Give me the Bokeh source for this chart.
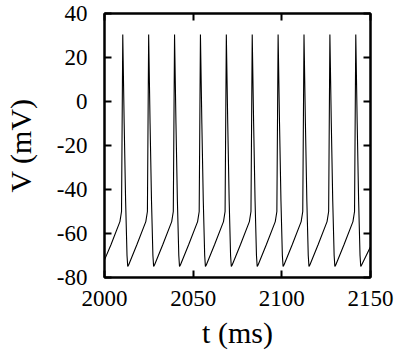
from bokeh.plotting import figure
from bokeh.models import Range1d, LinearAxis, FixedTicker, CustomJSTickFormatter
from bokeh.embed import file_html
from bokeh.resources import INLINE

# time (ms) and membrane voltage (mV)
t_ms = [
    2000.0, 2003.7,
    2008.7, 2009.6, 2010.3, 2011.1, 2011.9, 2012.7, 2013.1, 2013.6, 2018.3,
    2023.3, 2024.2, 2024.9, 2025.7, 2026.5, 2027.3, 2027.7, 2028.2, 2032.9,
    2037.9, 2038.8, 2039.5, 2040.3, 2041.1, 2041.9, 2042.3, 2042.8, 2047.5,
    2052.5, 2053.4, 2054.1, 2054.9, 2055.7, 2056.5, 2056.9, 2057.4, 2062.1,
    2067.1, 2068.0, 2068.7, 2069.5, 2070.3, 2071.1, 2071.5, 2072.0, 2076.7,
    2081.7, 2082.6, 2083.3, 2084.1, 2084.9, 2085.7, 2086.1, 2086.6, 2091.3,
    2096.3, 2097.2, 2097.9, 2098.7, 2099.5, 2100.3, 2100.7, 2101.2, 2105.9,
    2110.9, 2111.8, 2112.5, 2113.3, 2114.1, 2114.9, 2115.3, 2115.8, 2120.5,
    2125.5, 2126.4, 2127.1, 2127.9, 2128.7, 2129.5, 2129.9, 2130.4, 2135.1,
    2140.1, 2141.0, 2141.7, 2142.5, 2143.3, 2144.1, 2144.5, 2145.0, 2150.0,
]
v_mv = [
    -72.0, -65.0,
    -54.6, -50.0, 30.5, -10.0, -45.0, -70.0, -75.0, -74.3, -65.0,
    -54.6, -50.0, 30.5, -10.0, -45.0, -70.0, -75.0, -74.3, -65.0,
    -54.6, -50.0, 30.5, -10.0, -45.0, -70.0, -75.0, -74.3, -65.0,
    -54.6, -50.0, 30.5, -10.0, -45.0, -70.0, -75.0, -74.3, -65.0,
    -54.6, -50.0, 30.5, -10.0, -45.0, -70.0, -75.0, -74.3, -65.0,
    -54.6, -50.0, 30.5, -10.0, -45.0, -70.0, -75.0, -74.3, -65.0,
    -54.6, -50.0, 30.5, -10.0, -45.0, -70.0, -75.0, -74.3, -65.0,
    -54.6, -50.0, 30.5, -10.0, -45.0, -70.0, -75.0, -74.3, -65.0,
    -54.6, -50.0, 30.5, -10.0, -45.0, -70.0, -75.0, -74.3, -65.0,
    -54.6, -50.0, 30.5, -10.0, -45.0, -70.0, -75.0, -74.3, -66.0,
]
x_ticks = [2000, 2050, 2100, 2150]
x_labels = ["2000", "2050", "2100", "2150"]
y_ticks = [-80, -60, -40, -20, 0, 20, 40]
y_labels = ["-80", "-60", "-40", "-20", "0", "20", "40"]

FONT = "Liberation Serif"

p = figure(width=399, height=358, output_backend="svg", toolbar_location=None,
           x_range=Range1d(2000, 2150), y_range=Range1d(-80, 40),
           min_border_left=100, min_border_right=29, min_border_top=13,
           min_border_bottom=81, x_axis_label="t (ms)", y_axis_label="V (mV)")
p.grid.visible = False
p.background_fill_color = "white"
p.border_fill_color = "white"
p.outline_line_color = "black"
p.outline_line_width = 2

p.line(t_ms, v_mv, line_color="black", line_width=1.1)

bottom_ax = p.below[0]
left_ax = p.left[0]
top_ax = LinearAxis(formatter=CustomJSTickFormatter(code="return ''"))
right_ax = LinearAxis(formatter=CustomJSTickFormatter(code="return ''"))
p.add_layout(top_ax, "above")
p.add_layout(right_ax, "right")

for ax in (bottom_ax, top_ax):
    ax.ticker = FixedTicker(ticks=x_ticks)
for ax in (left_ax, right_ax):
    ax.ticker = FixedTicker(ticks=y_ticks)
bottom_ax.major_label_overrides = dict(zip(x_ticks, x_labels))
left_ax.major_label_overrides = dict(zip(y_ticks, y_labels))

for ax in (bottom_ax, left_ax, top_ax, right_ax):
    ax.axis_line_color = "black"
    ax.axis_line_width = 2
    ax.major_tick_in = 7
    ax.major_tick_out = 0
    ax.major_tick_line_width = 2
    ax.minor_tick_line_color = None
    ax.major_label_text_font = FONT
    ax.major_label_text_font_size = "23px"
    ax.major_label_text_color = "black"
    ax.axis_label_text_font = FONT
    ax.axis_label_text_font_size = "30px"
    ax.axis_label_text_font_style = "normal"
    ax.axis_label_text_color = "black"

for ax in (top_ax, right_ax):
    ax.major_label_standoff = 0
    ax.axis_label = None

bottom_ax.major_label_standoff = 13
left_ax.major_label_standoff = 17
bottom_ax.axis_label_standoff = 7
left_ax.axis_label_standoff = 17

open("out.html", "w").write(file_html(p, INLINE))
